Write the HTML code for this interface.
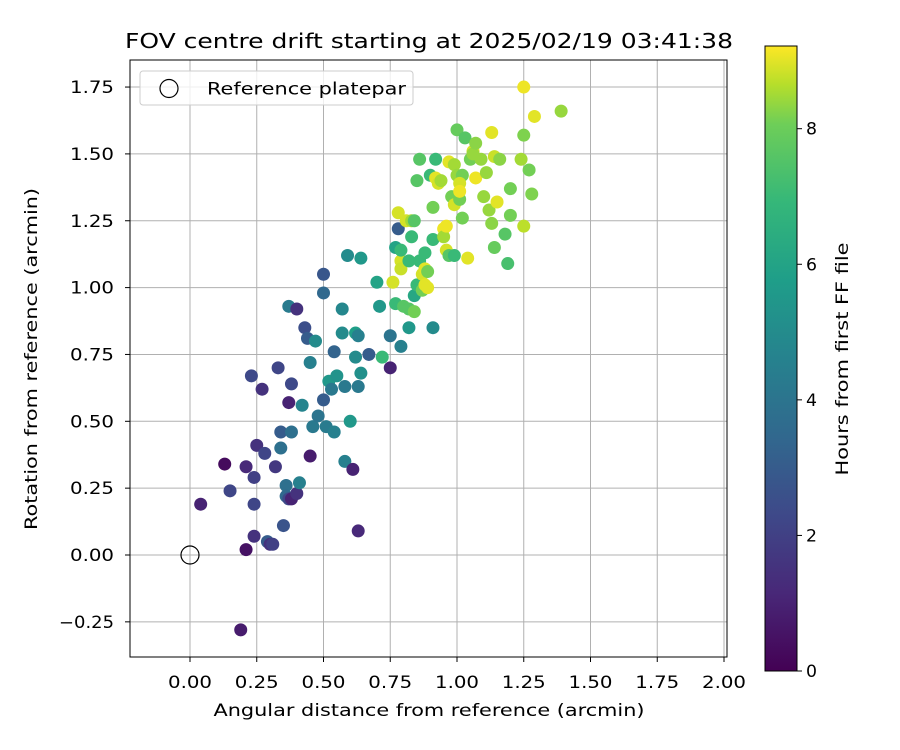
<!DOCTYPE html>
<html><head><meta charset="utf-8"><style>
body{margin:0;background:#fff;}
svg{display:block;font-family:"DejaVu Sans","Liberation Sans",sans-serif;}
</style></head><body>
<svg id="chart" width="900" height="750" viewBox="0 0 900 750">
<defs>
<linearGradient id="viridis" x1="0" y1="1" x2="0" y2="0">
<stop offset="0" stop-color="#440154"/><stop offset="0.125" stop-color="#482878"/><stop offset="0.25" stop-color="#3e4989"/><stop offset="0.375" stop-color="#31688e"/><stop offset="0.5" stop-color="#26828e"/><stop offset="0.625" stop-color="#1f9e89"/><stop offset="0.75" stop-color="#35b779"/><stop offset="0.875" stop-color="#6ece58"/><stop offset="0.9375" stop-color="#b5de2b"/><stop offset="1" stop-color="#fde725"/>
</linearGradient>
</defs>
<text x="429" y="48" font-size="20.5" text-anchor="middle" textLength="608" lengthAdjust="spacingAndGlyphs">FOV centre drift starting at 2025/02/19 03:41:38</text>
<g id="grid"></g>
<g id="points"></g>
<rect x="130" y="60" width="597" height="597" fill="none" stroke="#000" stroke-width="1"/>
<g id="xticks"></g>
<g id="yticks"></g>
<text x="429" y="716" font-size="17" text-anchor="middle" textLength="431" lengthAdjust="spacingAndGlyphs">Angular distance from reference (arcmin)</text>
<text transform="translate(37,359) rotate(-90)" font-size="17" text-anchor="middle" textLength="342" lengthAdjust="spacingAndGlyphs">Rotation from reference (arcmin)</text>
<g>
<rect x="140" y="71" width="273" height="34" rx="3" fill="#fff" fill-opacity="0.8" stroke="#ccc"/>
<circle cx="169" cy="88.5" r="9" fill="none" stroke="#000" stroke-width="1.2"/>
<text x="207" y="94.5" font-size="16.5" textLength="199" lengthAdjust="spacingAndGlyphs">Reference platepar</text>
</g>
<rect x="765" y="46" width="32" height="625" fill="url(#viridis)" stroke="#000" stroke-width="1"/>
<g id="cticks"></g>
<text transform="translate(848,359) rotate(-90)" font-size="17" text-anchor="middle" textLength="233" lengthAdjust="spacingAndGlyphs">Hours from first FF file</text>
</svg>
<script>
const xs=[.04,.13,.15,.19,.21,.21,.23,.24,.24,.24,.25,.27,.28,.29,.30,.31,.32,.33,.34,.34,.35,.36,.36,.37,.38,.37,.37,.38,.38,.40,.41,.40,.42,.43,.44,.45,.45,.46,.47,.48,.50,.50,.50,.51,.52,.53,.54,.55,.54,.57,.57,.58,.58,.59,.60,.61,.62,.62,.63,.63,.63,.64,.64,.67,.70,.71,.72,.75,.75,.76,.77,.77,.78,.79,
.78,.79,.79,.79,.80,.81,.82,.82,.82,.83,.83,.84,.84,.84,.85,.85,.86,.86,.87,.87,.88,.88,.88,.89,.89,.90,.91,.91,.91,.92,.92,.93,.94,.95,.95,.96,.96,.97,.97,.98,.99,.99,.99,1.00,1.00,1.01,1.02,1.01,1.01,1.02,1.03,1.04,1.05,1.06,1.07,1.06,1.07,1.09,1.10,1.11,1.12,1.13,1.13,1.14,1.14,1.15,1.16,1.18,1.19,1.20,1.20,1.24,1.25,1.25,1.27,1.28,1.25,1.29,1.39];
const ys=[.19,.34,.24,-.28,.33,.02,.67,.29,.19,.07,.41,.62,.38,.05,.04,.04,.33,.70,.46,.40,.11,.26,.22,.21,.21,.93,.57,.64,.46,.23,.27,.92,.56,.85,.81,.37,.72,.48,.80,.52,.58,1.05,.98,.48,.65,.62,.46,.67,.76,.83,.92,.35,.63,1.12,.50,.32,.83,.74,.82,.09,.63,1.11,.68,.75,1.02,.93,.74,.70,.82,1.02,1.15,.94,1.22,.78,
1.28,1.10,1.07,1.14,.93,1.25,.85,1.10,.92,1.25,1.19,.91,1.25,.97,1.40,1.01,1.10,1.48,.99,1.05,1.13,1.01,1.07,1.00,1.06,1.42,1.30,1.18,.85,1.41,1.48,1.39,1.40,1.22,1.19,1.23,1.14,1.47,1.12,1.34,1.12,1.31,1.46,1.42,1.59,1.33,1.42,1.39,1.36,1.26,1.56,1.11,1.48,1.51,1.41,1.50,1.54,1.48,1.34,1.43,1.29,1.24,1.58,1.15,1.49,1.32,1.48,1.20,1.09,1.27,1.37,1.48,1.57,1.23,1.44,1.35,1.75,1.64,1.66];
const hours=[1,.3,2.2,.8,1.2,.5,2.3,2,2.2,1.5,1.5,1.5,2.2,3,1.5,2,1.7,2.2,3,3.8,2.7,3.8,3.5,2.3,1,4.3,1,2.3,3.8,1.5,4.5,1.5,4.7,2.5,3,.8,4.5,4.2,5,4,3,2.8,3.5,4.3,5.5,4.2,4.5,5.3,3.3,5,4.8,4.5,4.2,5,5.5,1,5.8,5,4.5,1.2,4.2,5.5,5.2,3,6,5.5,7,1,4,8.9,6,7,3,4.5,
8.9,8.9,8.8,7,7.6,8.9,5.5,7,7.6,8.5,7,8.1,7.6,6.2,7.6,7,7,7.6,8.1,8.9,7,9,9,9,8.1,7,8.1,7,5,9,7,8.9,8.5,9.1,8.5,9.1,8.9,9,7.6,8.1,7,8.9,8.5,8.4,7.9,8.1,8.1,8.9,9.1,8.1,7.6,9,8.1,8.9,9.1,8.4,8.3,8.4,8.4,8.4,8.4,8.3,9,7.9,8.8,9,8.3,7.6,7.3,8.1,8.1,8.5,8.2,8.7,8.1,8.2,9.1,9,8.4];
const xTicks=[0,0.25,0.5,0.75,1.0,1.25,1.5,1.75,2.0];
const xTickLabels=["0.00","0.25","0.50","0.75","1.00","1.25","1.50","1.75","2.00"];
const yTicks=[-0.25,0,0.25,0.5,0.75,1.0,1.25,1.5,1.75];
const yTickLabels=["\u22120.25","0.00","0.25","0.50","0.75","1.00","1.25","1.50","1.75"];
const cTicks=[0,2,4,6,8];
const cTickLabels=["0","2","4","6","8"];
const cMax=9.22;

const NS="http://www.w3.org/2000/svg";
const sx=v=>190+v*267;
const sy=v=>555-v*267.4;
const sc=v=>671-v*(625/cMax);
const stops=[[0,[68,1,84]],[.125,[72,40,120]],[.25,[62,73,137]],[.375,[49,104,142]],[.5,[38,130,142]],[.625,[31,158,137]],[.75,[53,183,121]],[.875,[110,206,88]],[.9375,[181,222,43]],[1,[253,231,37]]];
function viridis(t){t=Math.max(0,Math.min(1,t));for(let i=1;i<stops.length;i++){if(t<=stops[i][0]){const a=stops[i-1],b=stops[i];const f=(t-a[0])/(b[0]-a[0]);const c=a[1].map((v,k)=>Math.round(v+(b[1][k]-v)*f));return`rgb(${c.join(',')})`;}}return'rgb(253,231,37)';}
function mk(tag,attrs,parent){const e=document.createElementNS(NS,tag);for(const k in attrs)e.setAttribute(k,attrs[k]);parent.appendChild(e);return e;}
const grid=document.getElementById('grid'),xg=document.getElementById('xticks'),yg=document.getElementById('yticks'),cg=document.getElementById('cticks'),pg=document.getElementById('points');
xTicks.forEach((v,i)=>{const x=sx(v);
const gl=mk('line',{x1:x,x2:x,y1:60,y2:657,stroke:'#b0b0b0','stroke-width':1},grid);


const t=mk('line',{x1:x,x2:x,y1:657,y2:662,stroke:'#000'},xg);


const l=mk('text',{x:x,y:688,'font-size':16.5,'text-anchor':'middle',textLength:xTickLabels[i].length*11,lengthAdjust:'spacingAndGlyphs'},xg);l.textContent=xTickLabels[i];

});
yTicks.forEach((v,i)=>{const y=sy(v);
const gl=mk('line',{x1:130,x2:727,y1:y,y2:y,stroke:'#b0b0b0','stroke-width':1},grid);


const t=mk('line',{x1:125,x2:130,y1:y,y2:y,stroke:'#000'},yg);


const l=mk('text',{x:114,y:y+6,'font-size':16.5,'text-anchor':'end',textLength:yTickLabels[i].length*11,lengthAdjust:'spacingAndGlyphs'},yg);l.textContent=yTickLabels[i];

});
cTicks.forEach((v,i)=>{const y=sc(v);
const t=mk('line',{x1:797,x2:802,y1:y,y2:y,stroke:'#000'},cg);


const l=mk('text',{x:806,y:y+6,'font-size':16.5,textLength:11,lengthAdjust:'spacingAndGlyphs'},cg);l.textContent=cTickLabels[i];

});
xs.forEach((x,i)=>{const c=mk('circle',{cx:sx(x),cy:sy(ys[i]),r:6.5,fill:viridis(hours[i]/cMax)},pg);

});
const ref=mk('circle',{cx:sx(0),cy:sy(0),r:9,fill:'none',stroke:'#000','stroke-width':1.2},pg);


</script>
</body></html>
